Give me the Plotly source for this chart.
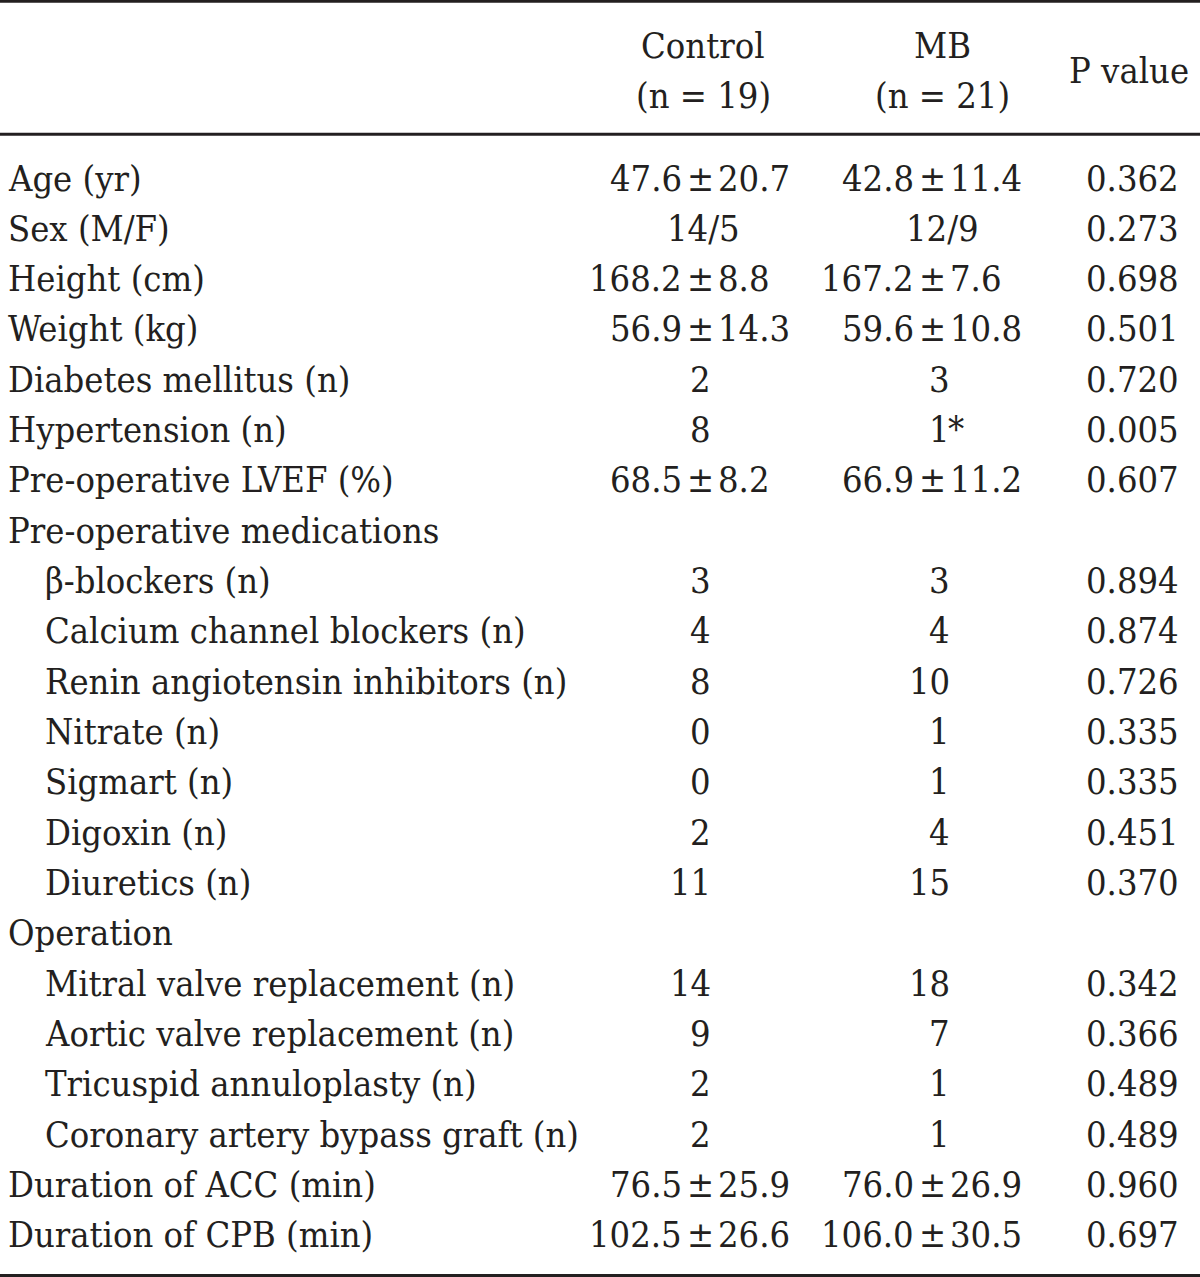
import plotly.graph_objects as go

# ---------------- data ----------------
row_labels = [
    "Age (yr)", "Sex (M/F)", "Height (cm)", "Weight (kg)", "Diabetes mellitus (n)",
    "Hypertension (n)", "Pre-operative LVEF (%)", "Pre-operative medications",
    "β-blockers (n)", "Calcium channel blockers (n)", "Renin angiotensin inhibitors (n)",
    "Nitrate (n)", "Sigmart (n)", "Digoxin (n)", "Diuretics (n)", "Operation",
    "Mitral valve replacement (n)", "Aortic valve replacement (n)",
    "Tricuspid annuloplasty (n)", "Coronary artery bypass graft (n)",
    "Duration of ACC (min)", "Duration of CPB (min)",
]
row_indent = [0, 0, 0, 0, 0, 0, 0, 0, 1, 1, 1, 1, 1, 1, 1, 0, 1, 1, 1, 1, 0, 0]
control_values = [
    "47.6 ± 20.7", "14/5", "168.2 ± 8.8", "56.9 ± 14.3", "2", "8", "68.5 ± 8.2", "",
    "3", "4", "8", "0", "0", "2", "11", "", "14", "9", "2", "2",
    "76.5 ± 25.9", "102.5 ± 26.6",
]
mb_values = [
    "42.8 ± 11.4", "12/9", "167.2 ± 7.6", "59.6 ± 10.8", "3", "1*", "66.9 ± 11.2", "",
    "3", "4", "10", "1", "1", "4", "15", "", "18", "7", "1", "1",
    "76.0 ± 26.9", "106.0 ± 30.5",
]
p_values = [
    "0.362", "0.273", "0.698", "0.501", "0.720", "0.005", "0.607", "",
    "0.894", "0.874", "0.726", "0.335", "0.335", "0.451", "0.370", "",
    "0.342", "0.366", "0.489", "0.489", "0.960", "0.697",
]
header_top = ["Control", "MB"]
header_bottom = ["(n = 19)", "(n = 21)"]
header_p = "P value"

# ---------------- layout constants ----------------
W, H = 1200, 1277
ROW0_PX, ROW_PX = 178.0, 50.33
FONT = "DejaVu Serif Condensed, DejaVu Serif"
FS = 36
COLOR = "#231f20"

def row_of_px(px):
    return (px - ROW0_PX) / ROW_PX

LABEL_X = [8, 45]
COLS = [
    dict(pm=700, right=711, center=703),
    dict(pm=932, right=950, center=942),
]
P_RIGHT = 1179
PM_GAP = 18

annotations = []

def add(text, x, y, anchor):
    annotations.append(dict(
        text=text, x=x, y=y, xref="x", yref="y", xanchor=anchor, yanchor="middle",
        showarrow=False, borderpad=0, borderwidth=0,
        font=dict(family=FONT, size=FS, color=COLOR),
    ))

# header
for col, top, bot in zip(COLS, header_top, header_bottom):
    add(top, col["center"], row_of_px(45), "center")
    add(bot, col["center"], row_of_px(95), "center")
add(header_p, 1129, row_of_px(70), "center")

# body
for i, lab in enumerate(row_labels):
    add(lab, LABEL_X[row_indent[i]], i, "left")
    for col, vals in zip(COLS, [control_values, mb_values]):
        v = vals[i]
        if not v:
            continue
        if "±" in v:
            a, b = [s.strip() for s in v.split("±")]
            add(a, col["pm"] - PM_GAP, i, "right")
            add("±", col["pm"], i, "center")
            add(b, col["pm"] + PM_GAP, i, "left")
        elif "/" in v:
            add(v, col["center"], i, "center")
        elif v.endswith("*"):
            add(v[:-1], col["right"], i, "right")
            add("*", col["right"] - 2, i, "left")
        else:
            add(v, col["right"], i, "right")
    if p_values[i]:
        add(p_values[i], P_RIGHT, i, "right")

shapes = []
for px, wdt in [(1.3, 3), (134.3, 3), (1275.5, 3)]:
    shapes.append(dict(type="line", xref="paper", x0=0, x1=1, yref="y",
                       y0=row_of_px(px), y1=row_of_px(px),
                       line=dict(color="#231f20", width=wdt)))

fig = go.Figure()
fig.add_trace(go.Scatter(x=[0, W], y=[0, 0], mode="markers",
                         marker=dict(opacity=0), hoverinfo="skip", showlegend=False))
fig.update_layout(
    width=W, height=H, margin=dict(l=0, r=0, t=0, b=0),
    paper_bgcolor="white", plot_bgcolor="white",
    xaxis=dict(range=[0, W], visible=False, fixedrange=True),
    yaxis=dict(range=[row_of_px(H), row_of_px(0)], visible=False, fixedrange=True),
    annotations=annotations, shapes=shapes, showlegend=False,
)
fig.write_html("out.html", config={"displayModeBar": False},
               post_script="document.body.style.margin='0';document.body.style.overflow='hidden';")
